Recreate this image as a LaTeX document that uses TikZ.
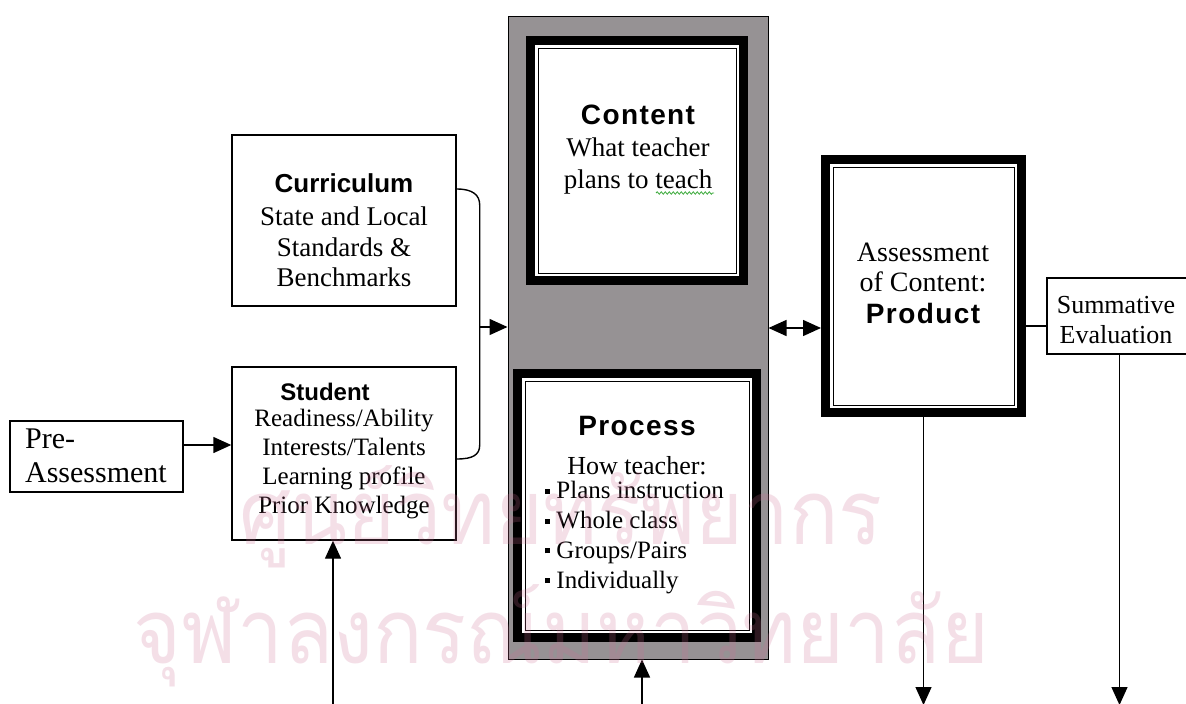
\documentclass[tikz,border=0pt]{standalone}
\usepackage{fontspec}
\setmainfont{Liberation Serif}
\newfontfamily\hsans{Liberation Sans}
\newfontfamily\hsansw[LetterSpace=5]{Liberation Sans}
\newfontfamily\thaifont[Script=Thai]{Loma}
\usetikzlibrary{arrows.meta,decorations.pathmorphing}
\definecolor{boxgrey}{RGB}{150,146,148}
\definecolor{wmpink}{RGB}{205,110,150}
\definecolor{squig}{RGB}{60,170,60}
\begin{document}
\begin{tikzpicture}[x=1pt,y=-1pt,
  every node/.style={inner sep=0pt},
  plain/.style={draw=black, line width=1.4pt, fill=white},
  frame/.style={draw=black, line width=9pt, fill=white, outer sep=4.5pt},
  txt/.style={align=center, font={\fontsize{26}{30}\selectfont}},
  headA/.style={font={\hsans\bfseries\fontsize{26}{30}\selectfont}},
  headB/.style={font={\hsansw\bfseries\fontsize{28}{30}\selectfont}},
  arr/.style={line width=1.4pt, -{Triangle[length=18pt,width=16pt]}},
  darr/.style={line width=1.4pt, {Triangle[length=18pt,width=16pt]}-{Triangle[length=18pt,width=16pt]}},
  link/.style={line width=1.4pt},
  thinline/.style={line width=1pt},
  wm/.style={text=wmpink, text opacity=0.22, xscale=0.91, transform shape, font={\thaifont\fontsize{90}{90}\selectfont}}
]
\useasboundingbox (0,0) rectangle (1186,704);
\fill[white] (0,0) rectangle (1186,704);

% boxes
\node[plain, minimum width=173pt, minimum height=71pt] (pre) at (96.5,456.5) {};
\node[plain, minimum width=224pt, minimum height=171pt] (cur) at (344,220.5) {};
\node[plain, minimum width=224pt, minimum height=173pt] (stu) at (344,453.5) {};
\node[plain, fill=boxgrey, line width=1pt, minimum width=260pt, minimum height=643pt] (grey) at (638,337.5) {};
\node[frame, minimum width=213pt, minimum height=240pt] (con) at (637,160.5) {};
\node[frame, minimum width=239pt, minimum height=264pt] (pro) at (637,505.5) {};
\node[frame, minimum width=196pt, minimum height=253pt] (prd) at (923.5,286) {};
\node[plain, minimum width=145pt, minimum height=76pt] (sum) at (1119.5,316) {};

% inner thin lines of framed boxes
\foreach \f in {con,pro,prd}{
  \draw[thinline] ([xshift=12pt,yshift=-12pt]\f.north west) rectangle ([xshift=-12pt,yshift=12pt]\f.south east);
}

% texts
\node[txt, align=left, font={\fontsize{30}{34}\selectfont}] (preT) at (96,456) {Pre-\\Assessment};
\node[headA] (curH) at (344,183) {Curriculum};
\node[txt, font={\fontsize{27}{30.5}\selectfont}] (curB) at (344,247) {State and Local\\Standards \&\\Benchmarks};
\node[headA, font={\hsans\bfseries\fontsize{24}{28}\selectfont}] (stuH) at (325,392) {Student};
\node[txt, font={\fontsize{25}{29}\selectfont}] (stuB) at (344,464) {Readiness/Ability\\Interests/Talents\\Learning profile\\Prior Knowledge};
\node[headB] (conH) at (638,115) {Content};
\node[txt, font={\fontsize{27}{32}\selectfont}] (conB) at (638,166) {What teacher\\plans to teach};
\node[headB] (proH) at (637,426) {Process};
\node[txt] (proS) at (637,466) {How teacher:};
\node[txt, align=left, anchor=west, font={\fontsize{25}{29.7}\selectfont}] (proL) at (545,537.5)
  {\raisebox{5pt}{\rule{5pt}{5pt}} Plans instruction\\
   \raisebox{5pt}{\rule{5pt}{5pt}} Whole class\\
   \raisebox{5pt}{\rule{5pt}{5pt}} Groups/Pairs\\
   \raisebox{5pt}{\rule{5pt}{5pt}} Individually};
\node[txt, font={\fontsize{28}{30}\selectfont}] (prdA) at (923,267) {Assessment\\of Content:};
\node[headB] (prdH) at (923,313) {Product};
\node[txt] (sumT) at (1116,320) {Summative\\Evaluation};

% grammar squiggle under "teach"
\draw[squig, line width=0.8pt, decorate, decoration={snake, amplitude=1.2pt, segment length=4pt}] (656,193) -- (714,193);

% connectors
\coordinate (preA) at ([yshift=11.5pt]pre.east);
\draw[arr] (preA) -- (preA -| stu.west);

\coordinate (b1) at ([yshift=31.5pt]cur.east);
\coordinate (b2) at ([yshift=-5.5pt]stu.east);
\coordinate (bt) at ([xshift=23pt,yshift=-16pt]b1);
\coordinate (bb) at ([xshift=23pt,yshift=14pt]b2);
\draw[link] (b1) .. controls +(16,0) and +(0,-10) .. (bt) -- (bb) .. controls +(0,10) and +(16,0) .. (b2);
\coordinate (gw) at ([yshift=10.5pt]grey.west);
\draw[arr] (gw -| bt) -- (gw);

\coordinate (ge) at ([yshift=9.5pt]grey.east);
\draw[darr] (ge) -- (ge -| prd.west);

\coordinate (pe) at ([yshift=-40pt]prd.east);
\draw[link] (pe) -- (pe -| sum.west);

\coordinate (pd) at (prd.south |- 0,705);
\draw[arr] (prd.south) -- (pd);
\coordinate (sd) at (sum.south |- 0,705);
\draw[arr] (sum.south) -- (sd);

\coordinate (su) at ([xshift=-11pt]stu.south |- 0,712);
\draw[arr] (su) -- (su |- stu.south);
\coordinate (gu) at ([xshift=4pt]grey.south |- 0,712);
\draw[arr] (gu) -- (gu |- grey.south);

% watermark
\node[wm] (wm1) at (561,517) {ศูนย์วิทยทรัพยากร};
\node[wm] (wm2) at (561,636) {จุฬาลงกรณ์มหาวิทยาลัย};
\end{tikzpicture}
\end{document}
